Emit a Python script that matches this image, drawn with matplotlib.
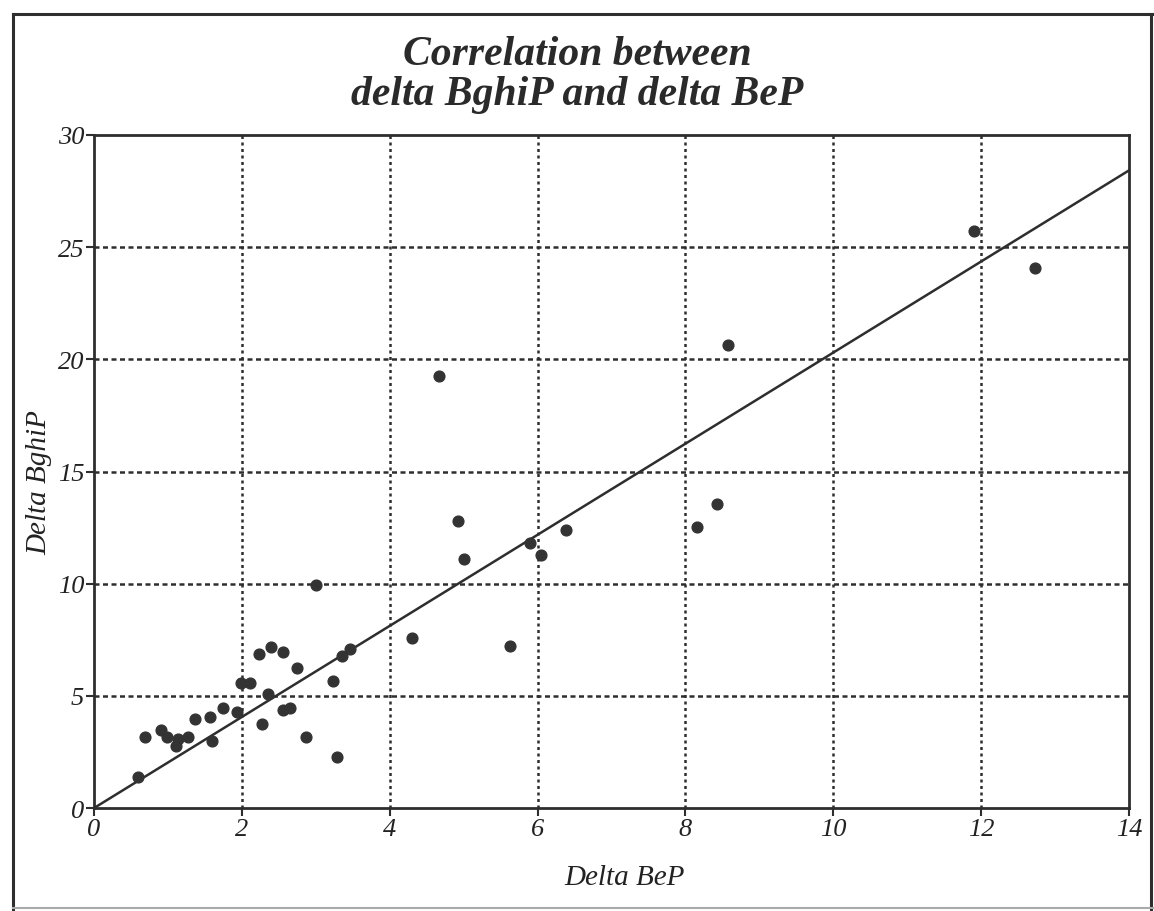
# scatter of delta BeP vs delta BghiP with fitted line

import matplotlib
matplotlib.use('Agg')
import matplotlib.pyplot as plt
from matplotlib.lines import Line2D

delta_bep = [0.60, 0.69, 0.90, 0.99, 1.14, 1.11, 1.27, 1.36, 1.57, 1.60,
             1.75, 1.94, 1.99, 2.11, 2.23, 2.40, 2.55, 2.74, 2.35, 2.27,
             2.56, 2.65, 2.87, 3.28, 3.23, 3.35, 3.46, 3.00, 4.30, 4.66,
             4.93, 5.00, 5.63, 5.90, 6.05, 6.38, 8.15, 8.43, 8.57, 11.90,
             12.73]
delta_bghip = [1.40, 3.17, 3.49, 3.17, 3.08, 2.76, 3.18, 3.98, 4.07, 2.97,
               4.46, 4.27, 5.56, 5.56, 6.88, 7.18, 6.97, 6.26, 5.07, 3.76,
               4.38, 4.46, 3.18, 2.29, 5.68, 6.79, 7.09, 9.96, 7.58, 19.27,
               12.80, 11.09, 7.21, 11.80, 11.29, 12.39, 12.51, 13.53, 20.64, 25.74,
               24.07]

slope = 2.03
fit_x = [0, 14]
fit_y = [slope * v for v in fit_x]

xticks = [0, 2, 4, 6, 8, 10, 12, 14]
yticks = [0, 5, 10, 15, 20, 25, 30]

ink = '#2e2e2e'
serif = 'Liberation Serif'

fig = plt.figure(figsize=(11.54, 9.12), dpi=100)
ax = fig.add_axes([0.0815, 0.1129, 0.8968, 0.7380])

# outer frame
frame = [Line2D([0.011, 1.0], [0.984, 0.984]),
         Line2D([0.011, 0.011], [0.0, 0.984]),
         Line2D([0.997, 0.997], [0.0, 0.984])]
for ln in frame:
    ln.set_transform(fig.transFigure)
    ln.set_color(ink)
    ln.set_linewidth(2.2)
    fig.add_artist(ln)
bottom = Line2D([0.011, 1.0], [0.003, 0.003], transform=fig.transFigure,
                color='#aaaaaa', linewidth=1.5)
fig.add_artist(bottom)

ax.set_xlim(0, 14)
ax.set_ylim(0, 30)
ax.set_xticks(xticks)
ax.set_yticks(yticks)
ax.set_xticklabels([str(t) for t in xticks])
ax.set_yticklabels([str(t) for t in yticks])

for tick in [2, 4, 6, 8, 10, 12]:
    ax.axvline(tick, color=ink, linewidth=1.8, linestyle=(0, (1.2, 1.4)), zorder=1)
for tick in [5, 10, 15, 20, 25]:
    ax.axhline(tick, color=ink, linewidth=1.8, linestyle=(0, (2.0, 1.4)), zorder=1)

ax.plot(fit_x, fit_y, color=ink, linewidth=1.8, zorder=2, clip_on=False)
ax.scatter(delta_bep, delta_bghip, s=60, color='#333333', zorder=3)

for side in ['left', 'bottom', 'top', 'right']:
    ax.spines[side].set_linewidth(2.0)
    ax.spines[side].set_color(ink)

ax.tick_params(axis='both', direction='out', length=6, width=1.5, color=ink,
               labelsize=19, labelcolor='#222222', pad=1)
for lab in ax.get_xticklabels() + ax.get_yticklabels():
    lab.set_fontfamily(serif)
    lab.set_fontstyle('italic')

ax.set_xlabel('Delta BeP', family=serif, style='italic', fontsize=21,
              color='#222222')
ax.xaxis.set_label_coords(0.513, -0.083)
ax.set_ylabel('Delta BghiP', family=serif, style='italic', fontsize=21,
              color='#222222')
ax.yaxis.set_label_coords(-0.040, 0.485)

fig.text(0.5, 0.918, 'Correlation between\ndelta BghiP and delta BeP',
         ha='center', va='center', family=serif, style='italic',
         weight='bold', fontsize=30, color='#2a2a2a', linespacing=1.05)

fig.savefig('out.png', dpi=100, facecolor='white')
